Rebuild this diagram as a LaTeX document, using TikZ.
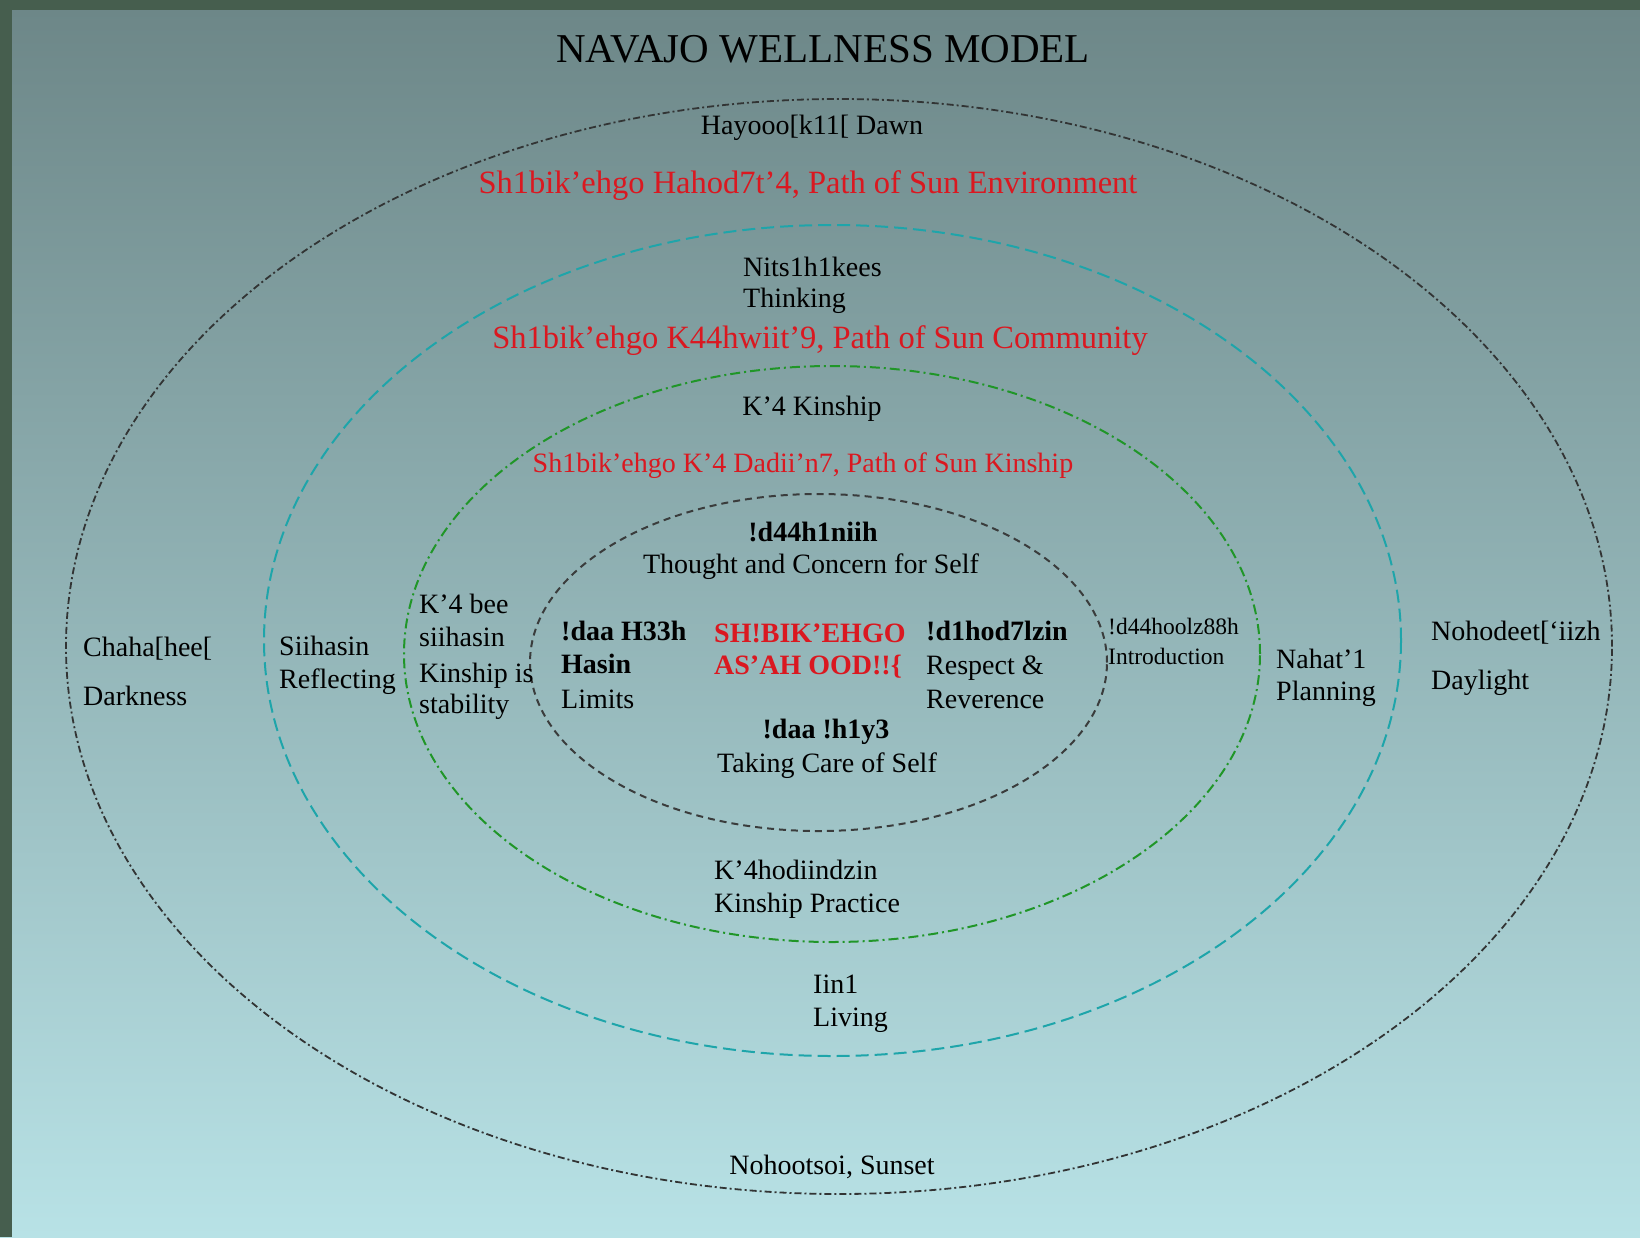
\documentclass[tikz,border=0pt]{standalone}
\usepackage{fontspec}
\setmainfont{Liberation Serif}
\definecolor{bgtop}{RGB}{109,135,136}
\definecolor{bgbot}{RGB}{184,226,230}
\definecolor{frame}{RGB}{70,94,78}
\definecolor{navred}{RGB}{218,24,32}
\definecolor{outerc}{RGB}{50,52,52}
\definecolor{tealc}{RGB}{30,165,170}
\definecolor{greenc}{RGB}{32,150,40}
\definecolor{innerc}{RGB}{58,60,60}
\tikzset{
  lbl/.style={font=\fontsize{28}{34}\selectfont, inner sep=0pt, text=black},
  lblb/.style={font=\fontsize{28}{34}\selectfont\bfseries, inner sep=0pt, text=black},
  lblsm/.style={font=\fontsize{23.5}{28}\selectfont, inner sep=0pt, text=black},
  redbig/.style={font=\fontsize{32.5}{38}\selectfont, inner sep=0pt, text=navred},
  redsm/.style={font=\fontsize{28}{34}\selectfont, inner sep=0pt, text=navred},
  redbold/.style={font=\fontsize{28}{34}\selectfont\bfseries, inner sep=0pt, text=navred},
  titlestyle/.style={font=\fontsize{41}{48}\selectfont, inner sep=0pt, text=black},
  outerring/.style={draw=outerc, line width=1.8pt, dash pattern=on 7pt off 3pt on 2pt off 3pt},
  tealring/.style={draw=tealc, line width=2pt, dash pattern=on 13pt off 6pt},
  greenring/.style={draw=greenc, line width=2pt, dash pattern=on 10pt off 4pt on 2pt off 4pt},
  innerring/.style={draw=innerc, line width=2pt, dash pattern=on 7pt off 5pt}
}
\begin{document}
\begin{tikzpicture}[x=1pt,y=-1pt]
\useasboundingbox (0,0) rectangle (1640,1237);
% background
\shade[top color=bgtop, bottom color=bgbot] (0,10) rectangle (1640,1237);
\fill[frame] (0,0) rectangle (1640,10);
\fill[frame] (0,0) rectangle (12,1237);
% rings
\draw[outerring] (839,646.5) ellipse [x radius=773pt, y radius=547.5pt];
\draw[tealring] (832.5,640.5) ellipse [x radius=568.5pt, y radius=415.5pt];
\draw[greenring] (832,654) ellipse [x radius=428pt, y radius=288pt];
\draw[innerring] (818.5,662.5) ellipse [x radius=288.5pt, y radius=168.5pt];
% title
\node[titlestyle, anchor=base] (title) at (823,62.5) {NAVAJO WELLNESS MODEL};
% outer ring
\node[lbl, anchor=base] (dawn) at (812,134) {Hayooo[k11[ Dawn};
\node[redbig, anchor=base] (env) at (808,193.5) {Sh1bik’ehgo Hahod7t’4, Path of Sun Environment};
\node[lbl, anchor=base west] (dark1) at (83,656) {Chaha[hee[};
\node[lbl, anchor=base west] (dark2) at (83,705.5) {Darkness};
\node[lbl, anchor=base west] (day1) at (1431,640.5) {Nohodeet[‘iizh};
\node[lbl, anchor=base west] (day2) at (1431,689.5) {Daylight};
\node[lbl, anchor=base] (sunset) at (832,1174) {Nohootsoi, Sunset};
% teal ring
\node[lbl, anchor=base west] (think1) at (743,276) {Nits1h1kees};
\node[lbl, anchor=base west] (think2) at (743,307) {Thinking};
\node[redbig, anchor=base] (comm) at (820,348) {Sh1bik’ehgo K44hwiit’9, Path of Sun Community};
\node[lbl, anchor=base west] (refl1) at (279,655) {Siihasin};
\node[lbl, anchor=base west] (refl2) at (279,688) {Reflecting};
\node[lbl, anchor=base west] (plan1) at (1276,668) {Nahat’1};
\node[lbl, anchor=base west] (plan2) at (1276,700) {Planning};
\node[lbl, anchor=base west] (live1) at (813,993) {Iin1};
\node[lbl, anchor=base west] (live2) at (813,1026) {Living};
% green ring
\node[lbl, anchor=base] (kin) at (812,415) {K’4 Kinship};
\node[redsm, anchor=base] (kinpath) at (803,472) {Sh1bik’ehgo K’4 Dadii’n7, Path of Sun Kinship};
\node[lbl, anchor=base west] (stab1) at (419,613) {K’4 bee};
\node[lbl, anchor=base west] (stab2) at (419,646.5) {siihasin};
\node[lbl, anchor=base west] (stab3) at (419,682) {Kinship is};
\node[lbl, anchor=base west] (stab4) at (419,713) {stability};
\node[lblsm, anchor=base west] (intro1) at (1108,634.5) {!d44hoolz88h};
\node[lblsm, anchor=base west] (intro2) at (1108,664) {Introduction};
\node[lbl, anchor=base west] (prac1) at (714,879) {K’4hodiindzin};
\node[lbl, anchor=base west] (prac2) at (714,912) {Kinship Practice};
% inner ring
\node[lblb, anchor=base] (self1) at (813,541.5) {!d44h1niih};
\node[lbl, anchor=base] (self2) at (811,573.5) {Thought and Concern for Self};
\node[lblb, anchor=base west] (lim1) at (561,640.5) {!daa H33h};
\node[lblb, anchor=base west] (lim2) at (561,673) {Hasin};
\node[lbl, anchor=base west] (lim3) at (561,708) {Limits};
\node[redbold, anchor=base west] (core1) at (714,642) {SH!BIK’EHGO};
\node[redbold, anchor=base west] (core2) at (714,674.5) {AS’AH OOD!!\{};
\node[lblb, anchor=base west] (resp1) at (926,640.5) {!d1hod7lzin};
\node[lbl, anchor=base west] (resp2) at (926,674) {Respect \&};
\node[lbl, anchor=base west] (resp3) at (926,708) {Reverence};
\node[lblb, anchor=base] (care1) at (826,738) {!daa !h1y3};
\node[lbl, anchor=base] (care2) at (827,772) {Taking Care of Self};
\end{tikzpicture}
\end{document}
